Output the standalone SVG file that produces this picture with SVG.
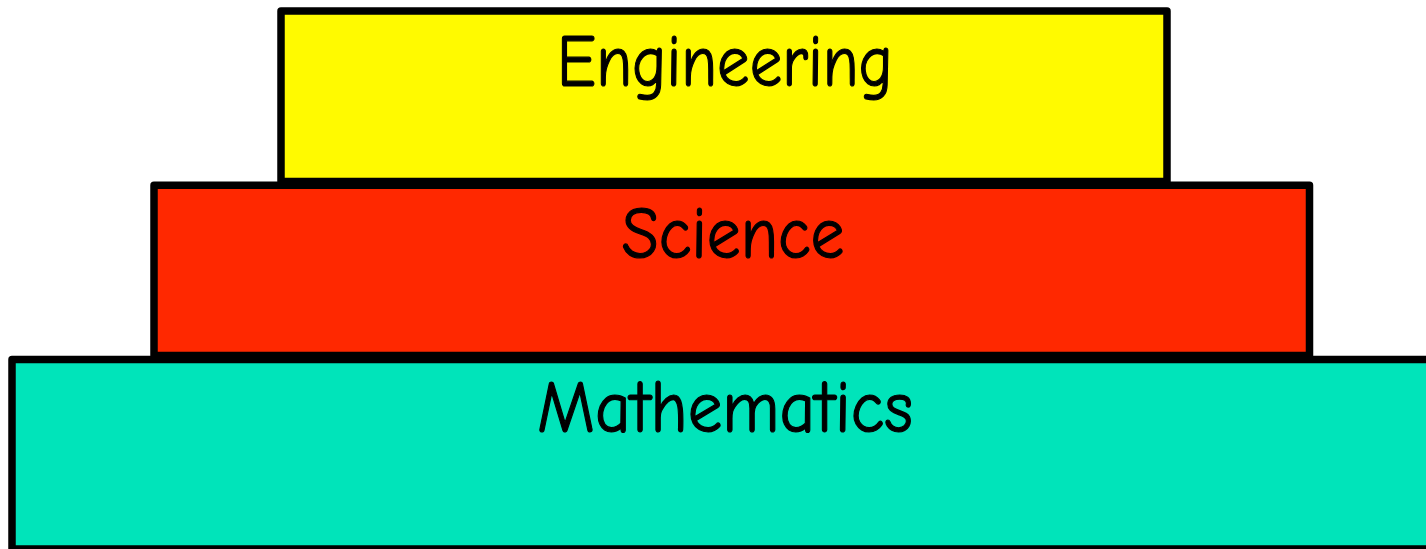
<svg xmlns="http://www.w3.org/2000/svg" width="1426" height="549" viewBox="0 0 1426 549">
<style>
.box{stroke:#000;stroke-width:7.5;stroke-linejoin:round}
.lbl{font-family:"Comic Sans MS","Comic Neue","DejaVu Sans","Liberation Sans",sans-serif;font-size:74px;fill:#000;stroke:#000;stroke-width:1.2;text-anchor:middle}
</style>
<rect width="1426" height="549" fill="#fff"/>
<g id="mathematics">
<rect class="box" x="12" y="359.5" width="1424" height="189.5" fill="#00E4BA"/>
<text class="lbl" x="725" y="432" textLength="376" lengthAdjust="spacingAndGlyphs">Mathematics</text>
</g>
<g id="science">
<rect class="box" x="154" y="185.3" width="1155.5" height="170.2" fill="#FF2800"/>
<text class="lbl" x="733" y="258" textLength="223" lengthAdjust="spacingAndGlyphs">Science</text>
</g>
<g id="engineering">
<rect class="box" x="281" y="11" width="886" height="170.5" fill="#FFFA00"/>
<text class="lbl" x="725" y="86" textLength="336" lengthAdjust="spacingAndGlyphs">Engineering</text>
</g>
<g id="connectors"/>
</svg>
